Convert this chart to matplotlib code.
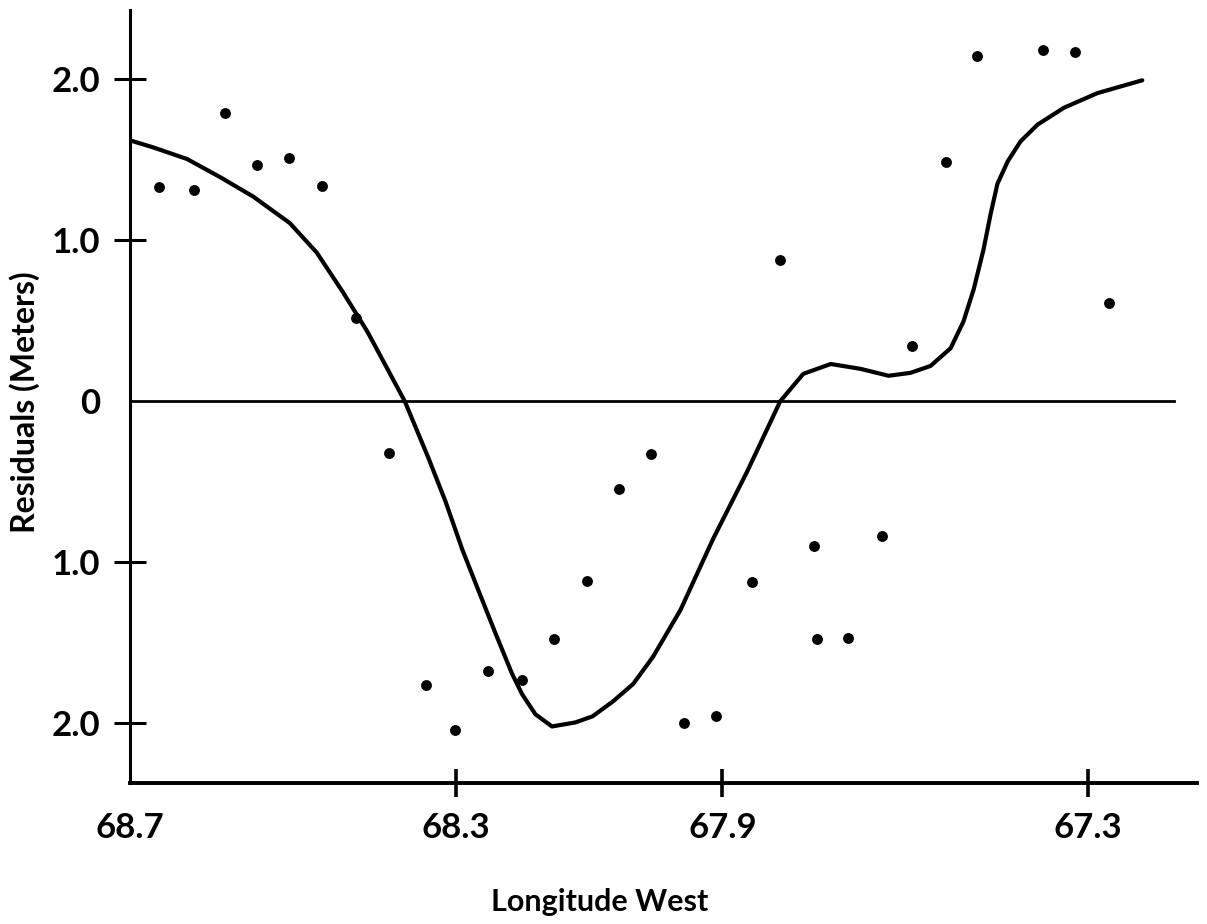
"""Residuals vs longitude with fitted curve (scanned figure recreation)."""

import matplotlib

matplotlib.use("Agg")
import matplotlib.pyplot as plt
import numpy as np

# observed residuals (meters) at longitude west (deg)
point_lon = [
    68.664, 68.621, 68.583, 68.544, 68.505, 68.464, 68.423, 68.383, 68.337, 68.301,
    68.252, 68.201, 68.153, 68.103, 68.056, 68.007, 67.957, 67.909, 67.852, 67.805,
    67.749, 67.744, 67.693, 67.637, 67.588, 67.532, 67.482, 67.374, 67.321, 67.264,
]
point_resid = [
    1.333, 1.315, 1.792, 1.468, 1.511, 1.339, 0.520, -0.321, -1.761, -2.038,
    -1.673, -1.730, -1.478, -1.113, -0.547, -0.327, -2.000, -1.956, -1.119, 0.881,
    -0.899, -1.478, -1.472, -0.836, 0.343, 1.486, 2.147, 2.183, 2.171, 0.612,
]

# fitted curve
curve_lon = [
    68.700, 68.672, 68.630, 68.590, 68.549, 68.504, 68.471, 68.439, 68.409, 68.385,
    68.363, 68.334, 68.313, 68.291, 68.267, 68.241, 68.216, 68.201, 68.181, 68.156,
    68.121, 68.095, 68.064, 68.034, 68.004, 67.963, 67.914, 67.859, 67.805, 67.767,
    67.722, 67.673, 67.627, 67.591, 67.558, 67.525, 67.504, 67.487, 67.471, 67.459,
    67.448, 67.431, 67.410, 67.382, 67.339, 67.284, 67.210,
]
curve_resid = [
    1.621, 1.578, 1.505, 1.394, 1.272, 1.107, 0.924, 0.679, 0.434, 0.208,
    0.000, -0.352, -0.623, -0.918, -1.170, -1.440, -1.692, -1.818, -1.943, -2.019,
    -1.994, -1.956, -1.862, -1.755, -1.585, -1.296, -0.855, -0.434, 0.000, 0.171,
    0.232, 0.202, 0.159, 0.177, 0.220, 0.330, 0.495, 0.697, 0.942, 1.168,
    1.352, 1.492, 1.615, 1.719, 1.823, 1.914, 1.994,
]

x_ticks = [68.7, 68.3, 67.9, 67.3]
x_tick_labels = ["68.7", "68.3", "67.9", "67.3"]
y_ticks = [2.0, 1.0, 0.0, -1.0, -2.0]
y_tick_labels = ["2.0", "1.0", "0", "1.0", "2.0"]

# the printed longitude axis is not evenly spaced; piecewise-linear scale
SCALE_LON = np.array([66.9, 67.3, 67.9, 68.3, 68.7, 69.1])
SCALE_POS = np.array([-1200.0, -957.0, -592.0, -326.0, 0.0, 326.0])

FONT = ["Lato", "DejaVu Sans"]


def lon_forward(lon):
    return np.interp(lon, SCALE_LON, SCALE_POS)


def lon_inverse(pos):
    return np.interp(pos, SCALE_POS, SCALE_LON)


def main() -> None:
    plt.rcParams["font.family"] = FONT
    plt.rcParams["font.weight"] = "bold"

    fig = plt.figure(figsize=(12.07, 9.24), dpi=100)
    ax = fig.add_axes([0.1077, 0.1526, 0.8840, 0.8365])
    ax.set_xscale("function", functions=(lon_forward, lon_inverse))

    ax.plot(curve_lon, curve_resid, color="black", linewidth=3.0,
            solid_capstyle="round", solid_joinstyle="round")
    ax.plot(point_lon, point_resid, "o", color="black", markersize=6.8)
    ax.axhline(0, xmin=0, xmax=0.978, color="black", linewidth=2.0)

    ax.set_xlim(68.7, 67.12)
    ax.set_ylim(-2.37, 2.43)

    for side in ("top", "right"):
        ax.spines[side].set_visible(False)
    ax.spines["left"].set_linewidth(2.2)
    ax.spines["bottom"].set_linewidth(2.8)

    ax.set_xticks(x_ticks)
    ax.set_xticklabels(x_tick_labels, fontsize=25, fontweight="bold")
    ax.set_yticks(y_ticks)
    ax.set_yticklabels(y_tick_labels, fontsize=25, fontweight="bold")
    ax.tick_params(axis="x", direction="inout", length=20, width=2.6, pad=11)
    ax.tick_params(axis="y", direction="inout", length=23, width=2.2, pad=10)
    ax.xaxis.get_major_ticks()[0].tick1line.set_visible(False)
    ax.yaxis.get_major_ticks()[2].tick1line.set_visible(False)

    ax.set_xlabel("Longitude West", fontsize=22, fontweight="bold")
    ax.xaxis.label.set_va("center")
    ax.xaxis.set_label_coords(0.4405, -0.154)
    ax.set_ylabel("Residuals (Meters)", fontsize=23, fontweight="bold")
    ax.yaxis.label.set_va("center")
    ax.yaxis.set_label_coords(-0.0984, 0.493)

    fig.savefig("out.png", dpi=100, facecolor="white")
    plt.close(fig)


if __name__ == "__main__":
    main()
